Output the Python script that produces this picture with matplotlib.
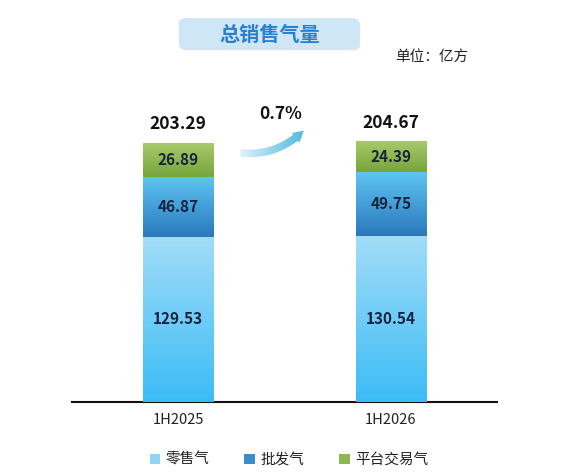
import numpy as np
import matplotlib.pyplot as plt
from matplotlib.patches import Patch, FancyBboxPatch, FancyArrowPatch
from matplotlib.colors import LinearSegmentedColormap

# data (unit: 亿方)
categories = ['1H2025', '1H2026']
retail = [129.53, 130.54]
wholesale = [46.87, 49.75]
platform = [26.89, 24.39]
totals = [203.29, 204.67]
growth_label = '0.7%'
series_names = ['零售气', '批发气', '平台交易气']

plt.rcParams['font.family'] = ['Noto Sans CJK SC', 'DejaVu Sans']

# gradient colours (top, bottom) for each series
grad_colors = [
    ('#a3ddf8', '#3bbcf6'),
    ('#5ec4f3', '#2a78bb'),
    ('#a9ca6c', '#76a63a'),
]
legend_colors = ['#8fd3f5', '#3a8ccc', '#8cb94f']

fig = plt.figure(figsize=(5.78, 4.75), dpi=100)
ax = fig.add_axes([72 / 578, 73 / 475, 425 / 578, 302 / 475])

x = np.arange(len(categories))
width = 0.33
bottom = np.zeros(len(categories))
grad = np.linspace(0, 1, 256).reshape(-1, 1)

for vals, (c_top, c_bot) in zip([retail, wholesale, platform], grad_colors):
    bars = ax.bar(x, vals, width, bottom=bottom, color=c_bot, edgecolor='none', zorder=2)
    cmap = LinearSegmentedColormap.from_list('g', [c_bot, c_top])
    for bar in bars:
        x0, y0 = bar.get_x(), bar.get_y()
        im = ax.imshow(grad, extent=[x0, x0 + bar.get_width(), y0, y0 + bar.get_height()],
                       origin='lower', aspect='auto', cmap=cmap, zorder=3)
        im.set_clip_path(bar)
    for xi, b, v in zip(x, bottom, vals):
        ax.text(xi, b + v / 2, f'{v:.2f}', ha='center', va='center',
                fontsize=11, fontweight='bold', color='#16243f', zorder=4)
    bottom = bottom + np.array(vals)

for xi, t in zip(x, totals):
    ax.annotate(f'{t:.2f}', (xi, t), xytext=(0, 7), textcoords='offset points',
                ha='center', va='bottom', fontsize=12.5, fontweight='bold', color='#111111')

# growth label and curved arrow between the bars (fading tail)
ax.annotate(growth_label, (0.5, max(totals)), xytext=(-3, 13), textcoords='offset points',
            ha='center', va='bottom', fontsize=12.5, fontweight='bold', color='#111111')
arrow = FancyArrowPatch((0.28, max(totals) - 9), (0.6, max(totals) + 10),
                        connectionstyle='arc3,rad=0.25',
                        arrowstyle='simple,head_width=9,head_length=8,tail_width=5.5',
                        facecolor='none', edgecolor='none', zorder=3)
ax.add_patch(arrow)
acmap = LinearSegmentedColormap.from_list('a', ['#eef8fc', '#8fd2ec', '#3fb2dc'])
aim = ax.imshow(np.linspace(0, 1, 256).reshape(1, -1),
                extent=[0.26, 0.64, max(totals) - 16, max(totals) + 16],
                origin='lower', aspect='auto', cmap=acmap, zorder=3)
aim.set_clip_path(arrow)

ax.set_xlim(-0.5, 1.5)
ax.set_ylim(0, 302 / 1.274)
ax.set_xticks(x)
ax.set_xticklabels(categories, fontsize=10.5, color='#222222')
ax.tick_params(axis='x', length=0, pad=8)
ax.set_yticks([])
for side in ['top', 'right', 'left']:
    ax.spines[side].set_visible(False)
ax.spines['bottom'].set_linewidth(1.5)
ax.spines['bottom'].set_color('#111111')

# title box
tax = fig.add_axes([175 / 578, 423 / 475, 188 / 578, 37 / 475])
tax.set_xlim(-4, 192)
tax.set_ylim(-4, 41)
tax.axis('off')
shadow = FancyBboxPatch((1, -2), 188, 37, boxstyle='round,pad=0,rounding_size=7',
                        facecolor='#b9c9d6', edgecolor='none', alpha=0.45)
tax.add_patch(shadow)
box = FancyBboxPatch((0, 0), 188, 37, boxstyle='round,pad=0,rounding_size=7',
                     facecolor='#cfe6f7', edgecolor='none')
tax.add_patch(box)
tcmap = LinearSegmentedColormap.from_list('t', ['#c4e0f5', '#e4f2fb'])
tim = tax.imshow(np.linspace(0, 1, 256).reshape(1, -1), extent=[0, 188, 0, 37],
                 aspect='auto', cmap=tcmap)
tim.set_clip_path(box)
tax.text(95, 17.5, '总销售气量', ha='center', va='center', fontsize=14.5,
         fontweight='bold', color='#2a80d0')

fig.text(432 / 578, 1 - 57 / 475, '单位：亿方', ha='center', va='center',
         fontsize=10.5, color='#222222')

handles = [Patch(facecolor=c, edgecolor='none') for c in legend_colors]
fig.legend(handles, series_names, loc='center', bbox_to_anchor=(289 / 578, 1 - 460 / 475),
           ncol=3, frameon=False, fontsize=10.5, handlelength=0.7, handleheight=0.7,
           handletextpad=0.4, columnspacing=2.4, labelcolor='#222222')

fig.savefig('out.png', dpi=100)
